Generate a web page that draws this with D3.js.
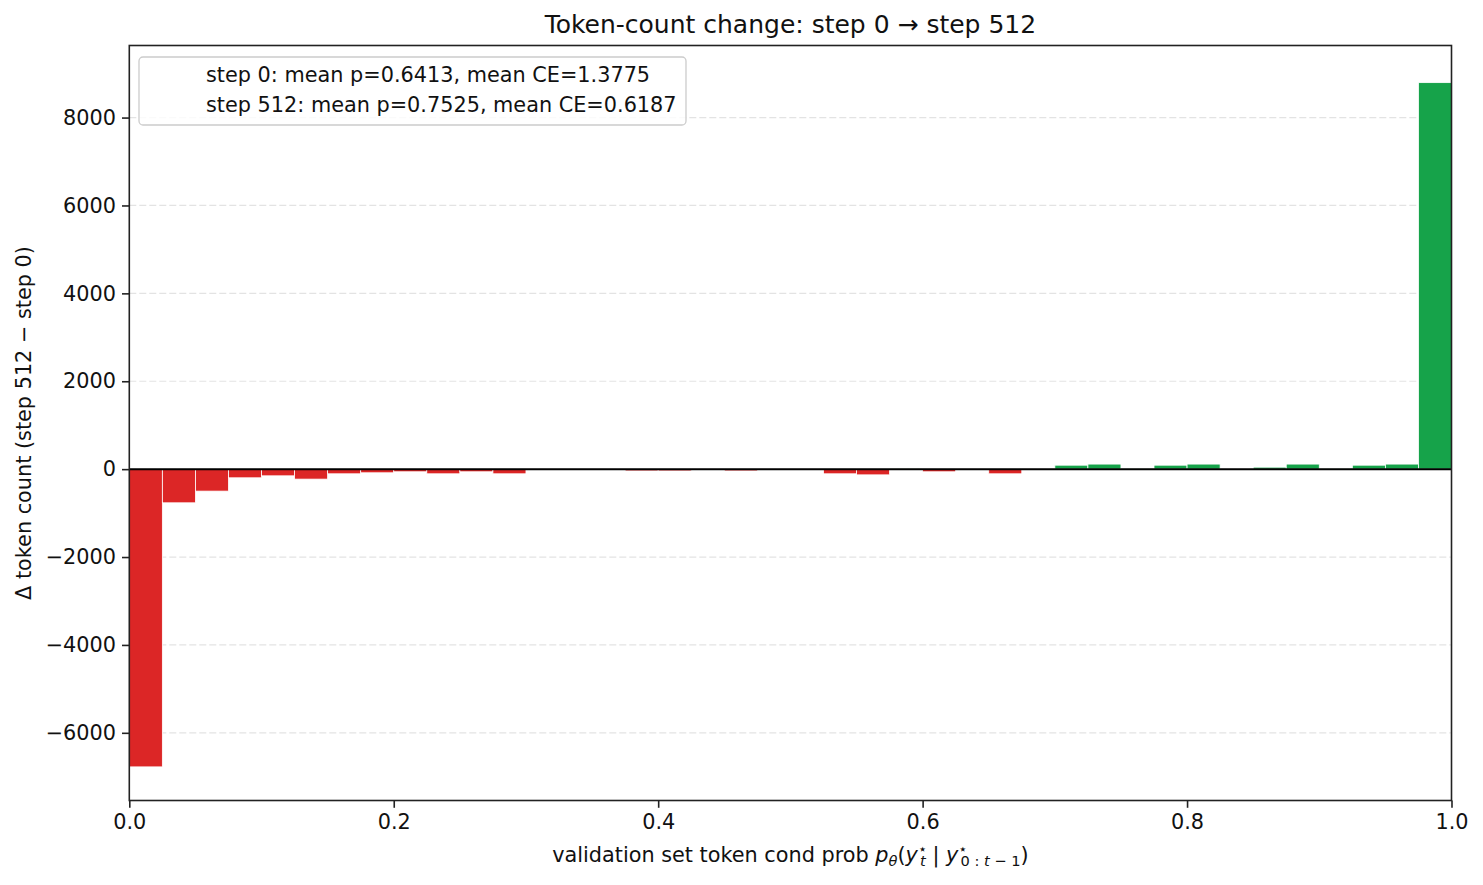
<!DOCTYPE html>
<html><head><meta charset="utf-8">
<script src="https://cdn.jsdelivr.net/npm/d3@7/dist/d3.min.js"></script>
<style>body{margin:0;background:#fff;} text{font-family:"DejaVu Sans",sans-serif;}</style>
</head><body><svg id="c" width="1483" height="885"></svg>
<script>
const binEdges = d3.range(0, 41).map(i => i / 40);
const deltas = [
 -6775, -766, -500, -197, -152, -227, -106, -83, -60, -106,
 -60, -106, 0, 0, 0, -40, -40, -10, -40, 0,
 0, -106, -130, 10, -60, -10, -106, -10, 90, 115,
 10, 90, 115, -10, 45, 115, 10, 90, 115, 8795
];
const xTicks = [0, 0.2, 0.4, 0.6, 0.8, 1.0];
const yTicks = [-6000, -4000, -2000, 0, 2000, 4000, 6000, 8000];
const legendLines = ["step 0: mean p=0.6413, mean CE=1.3775", "step 512: mean p=0.7525, mean CE=0.6187"];
const title = "Token-count change: step 0 \u2192 step 512";

const FS = 20.8, FSS = 14.6;
const svg = d3.select("#c");
const L = 129.3, R = 1451.5, T = 45.5, B = 800.5;
const x = d3.scaleLinear().domain([0, 1]).range([L, R]);
const y = d3.scaleLinear().domain([-7540, 9640]).range([B, T]);

// grid
svg.append("g").selectAll("line").data(yTicks).join("line")
  .attr("x1", L).attr("x2", R).attr("y1", d => y(d)).attr("y2", d => y(d))
  .attr("stroke", "#e3e3e3").attr("stroke-width", 1.2).attr("stroke-dasharray", "7,3");

// bars
const bins = deltas.map((v, i) => ({x0: binEdges[i], x1: binEdges[i + 1], v}));
svg.append("g").selectAll("rect").data(bins).join("rect")
  .attr("x", d => x(d.x0)).attr("width", d => x(d.x1) - x(d.x0))
  .attr("y", d => y(Math.max(0, d.v))).attr("height", d => Math.abs(y(d.v) - y(0)))
  .attr("fill", d => d.v >= 0 ? "#16a34a" : "#dc2626")
  .attr("stroke", "#fff").attr("stroke-width", 0.8);

// zero line
svg.append("line").attr("x1", L).attr("x2", R).attr("y1", y(0)).attr("y2", y(0))
  .attr("stroke", "#000").attr("stroke-width", 2);

// axes
const xAxis = d3.axisBottom(x).tickValues(xTicks).tickFormat(d3.format(".1f")).tickSize(7.3).tickPadding(6);
const gx = svg.append("g").attr("transform", `translate(0,${B})`).call(xAxis);
const yAxis = d3.axisLeft(y).tickValues(yTicks).tickFormat(d => d < 0 ? "\u2212" + Math.abs(d) : String(d)).tickSize(7.3).tickPadding(6);
const gy = svg.append("g").attr("transform", `translate(${L},0)`).call(yAxis);
[gx, gy].forEach(g => {
  g.select(".domain").remove();
  g.selectAll("line").attr("stroke", "#222").attr("stroke-width", 1.6);
  g.selectAll("text").attr("font-size", FS + "px").attr("fill", "#111").style("font-family", "DejaVu Sans");
});

// spines
svg.append("rect").attr("x", L).attr("y", T).attr("width", R - L).attr("height", B - T)
  .attr("fill", "none").attr("stroke", "#222").attr("stroke-width", 1.6);

// title
svg.append("text").attr("x", (L + R) / 2).attr("y", 33).attr("text-anchor", "middle")
  .attr("font-size", "25px").attr("fill", "#111").text(title);

// x label
const xl = svg.append("text").attr("x", (L + R) / 2).attr("y", 862).attr("text-anchor", "middle")
  .attr("font-size", FS + "px").attr("fill", "#111");
xl.append("tspan").text("validation set token cond prob ");
xl.append("tspan").attr("font-style", "italic").text("p");
xl.append("tspan").attr("font-style", "italic").attr("font-size", FSS + "px").attr("dy", 4).text("\u03b8");
xl.append("tspan").attr("dy", -4).text("(");
xl.append("tspan").attr("font-style", "italic").text("y");
xl.append("tspan").attr("font-size", FSS + "px").attr("dy", -8).text("\u22c6");
xl.append("tspan").attr("font-size", FSS + "px").attr("font-style", "italic").attr("dx", -7).attr("dy", 12).text("t");
xl.append("tspan").attr("dy", -4).text(" | ");
xl.append("tspan").attr("font-style", "italic").text("y");
xl.append("tspan").attr("font-size", FSS + "px").attr("dy", -8).text("\u22c6");
const sub = xl.append("tspan").attr("font-size", FSS + "px").attr("dx", -7).attr("dy", 12);
sub.append("tspan").text("0");
sub.append("tspan").text(" : ");
sub.append("tspan").attr("font-style", "italic").text("t");
sub.append("tspan").text(" \u2212 1");
xl.append("tspan").attr("font-size", FS + "px").attr("dy", -4).text(")");

// y label
svg.append("text").attr("transform", `translate(31,${(T + B) / 2}) rotate(-90)`).attr("text-anchor", "middle")
  .attr("font-size", FS + "px").attr("fill", "#111").text("\u0394 token count (step 512 \u2212 step 0)");

// legend
svg.append("rect").attr("x", 139).attr("y", 57).attr("width", 547).attr("height", 68).attr("rx", 4)
  .attr("fill", "#fff").attr("fill-opacity", 0.8).attr("stroke", "#ccc").attr("stroke-width", 1.3);
svg.append("g").selectAll("text").data(legendLines).join("text")
  .attr("x", 206).attr("y", (d, i) => 82 + i * 30).attr("font-size", FS + "px").attr("fill", "#111").text(d => d);
</script></body></html>
